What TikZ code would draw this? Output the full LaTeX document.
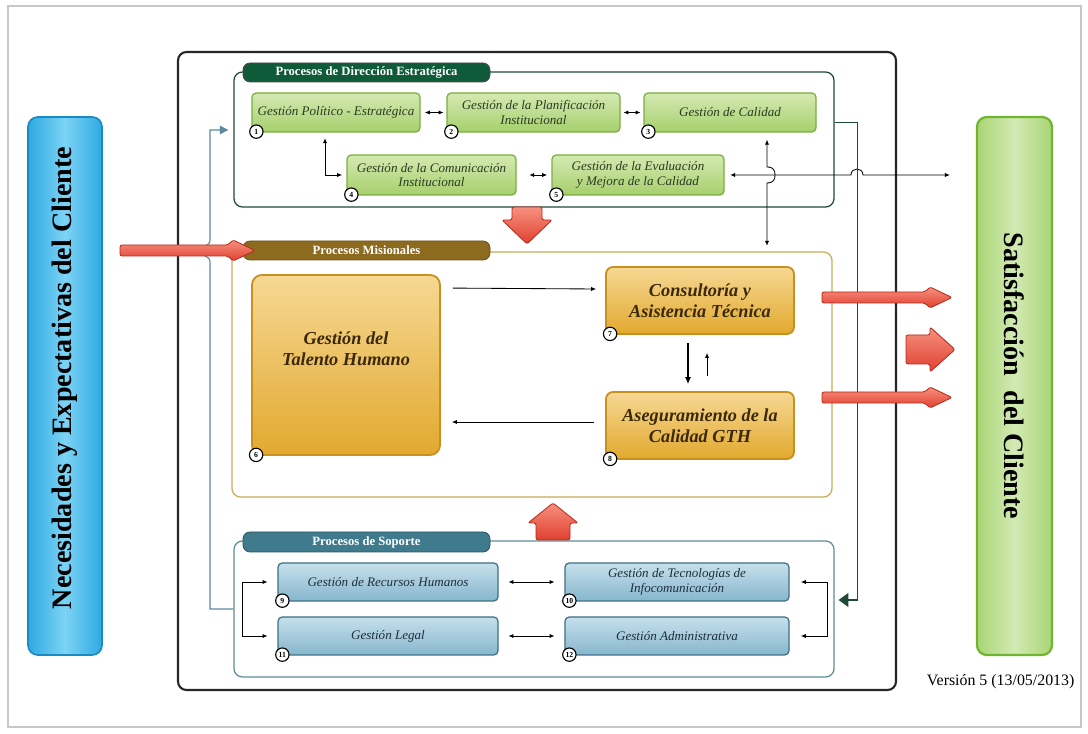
\documentclass[tikz,border=0pt]{standalone}
\usepackage{fontspec}
\setmainfont{Liberation Serif}
\usetikzlibrary{arrows.meta,calc}

\definecolor{gStroke}{HTML}{7AAE3E}
\definecolor{gTop}{HTML}{D4EAB2}
\definecolor{gBot}{HTML}{A6CF6C}
\definecolor{gText}{HTML}{2B3A22}
\definecolor{bStroke}{HTML}{3E6F86}
\definecolor{bTop}{HTML}{C6E0EB}
\definecolor{bBot}{HTML}{86B6CD}
\definecolor{bText}{HTML}{1E2E3C}
\definecolor{oStroke}{HTML}{C8901E}
\definecolor{oTop}{HTML}{F6D894}
\definecolor{oBot}{HTML}{E2A92E}
\definecolor{oText}{HTML}{3A2808}
\definecolor{dirGreen}{HTML}{1F4A38}
\definecolor{tabGreen}{HTML}{0F5A38}
\definecolor{misGold}{HTML}{C9AD5C}
\definecolor{tabGold}{HTML}{8C6A1E}
\definecolor{supTeal}{HTML}{5E8E98}
\definecolor{tabTeal}{HTML}{3F7B8C}
\definecolor{linkBlue}{HTML}{5B8AA0}
\definecolor{redFill}{HTML}{E0402F}
\definecolor{redLight}{HTML}{F7907F}
\definecolor{redEdge}{HTML}{B52A1E}
\definecolor{cyanBar}{HTML}{2EAAE2}
\definecolor{cyanLight}{HTML}{7CD3F5}
\definecolor{cyanEdge}{HTML}{1A8AC2}
\definecolor{limeEdge}{HTML}{70B530}
\definecolor{limeFill}{HTML}{A9D575}
\definecolor{limeLight}{HTML}{D2EAB4}

\tikzset{
  sz/.style 2 args={minimum width=#1*0.025cm, minimum height=#2*0.025cm},
  gbox/.style={draw=gStroke, line width=0.9pt, rounded corners=3pt,
    top color=gTop, bottom color=gBot, text=gText, align=center, inner sep=0pt,
    font=\fontsize{9.3}{10.2}\selectfont\itshape},
  bbox/.style={draw=bStroke, line width=0.9pt, rounded corners=3pt,
    top color=bTop, bottom color=bBot, text=bText, align=center, inner sep=0pt,
    font=\fontsize{9.3}{10.2}\selectfont\itshape},
  obox/.style={draw=oStroke, line width=1.3pt, rounded corners=5pt,
    top color=oTop, bottom color=oBot, text=oText, align=center, inner sep=0pt,
    font=\fontsize{13}{15}\selectfont\bfseries\itshape},
  frm/.style={rounded corners=6pt, line width=0.9pt, inner sep=0pt},
  tab/.style={rounded corners=5pt, text=white, inner sep=0pt, line width=0.6pt,
    font=\fontsize{9}{10}\selectfont\bfseries},
  numc/.style={circle, draw=black, fill=white, line width=0.8pt, inner sep=0pt,
    minimum size=9.5pt, font=\fontsize{5.5}{6}\selectfont\bfseries},
  arr/.style={line width=0.6pt, -{Latex[length=3.5pt,width=3pt]}},
  dbl/.style={line width=0.6pt, {Latex[length=3.5pt,width=3pt]}-{Latex[length=3.5pt,width=3pt]}},
  redarrow/.style={draw=redEdge, line width=0.6pt, top color=redLight,
    bottom color=redFill, rounded corners=1.5pt},
  bartext/.style={font=\fontsize{20}{22}\selectfont\bfseries, text=black},
}

\begin{document}
\begin{tikzpicture}[x=0.025cm, y=-0.025cm]
\useasboundingbox (0,0) rectangle (1088,734);
\fill[white] (0,0) rectangle (1088,734);
\draw[black!22, line width=0.8pt] (8,6) rectangle (1081,727);

% outer process frame
\node[draw=black!85, line width=1.5pt, rounded corners=6pt, sz={718}{638}] (main) at (537,371) {};

% client side bars
\node[draw=cyanEdge, line width=1.2pt, rounded corners=7pt, sz={74}{538},
  left color=cyanBar, right color=cyanBar, middle color=cyanLight] (need) at (65,386) {};
\node[bartext, rotate=90] at ($(need.center)+(0,-8)$) {Necesidades y Expectativas del Cliente};
\node[draw=limeEdge, line width=1.6pt, rounded corners=7pt, sz={75}{538},
  left color=limeFill, right color=limeFill, middle color=limeLight] (sat) at (1014.5,386) {};
\node[bartext, rotate=-90] at ($(sat.center)+(0,-10)$) {Satisfacción\ \ del Cliente};

\node[anchor=west, font=\fontsize{11.3}{13}\selectfont] (ver) at (922,682) {Versión 5 (13/05/2013)};

% ---------- strategic direction processes ----------
\node[frm, draw=dirGreen, sz={600}{135}] (dir) at (534,139.5) {};
\node[tab, draw=black!70, fill=tabGreen, sz={247}{19}] (tabDir) at (366.5,72.5) {Procesos de Dirección Estratégica};

\node[gbox, sz={168}{39}] (b1) at (336,112.5) {Gestión Político - Estratégica};
\node[gbox, sz={173}{39}] (b2) at (533.5,112.5) {Gestión de la Planificación\\Institucional};
\node[gbox, sz={172}{39}] (b3) at (730,112.5) {Gestión de Calidad};
\node[gbox, sz={169}{40}] (b4) at (431.5,175) {Gestión de la Comunicación\\Institucional};
\node[gbox, sz={172}{40}] (b5) at (638,175) {Gestión de la Evaluación\\y Mejora de la Calidad};

% ---------- mission processes ----------
\node[frm, draw=misGold, sz={600}{245}] (mis) at (532,374.5) {};
\node[tab, draw=tabGold!80!black, fill=tabGold, sz={247}{19}] (tabMis) at (366.5,250.5) {Procesos Misionales};

\node[obox, sz={188}{180}, rounded corners=7pt] (tal) at (346,365) {Gestión del\\Talento Humano\\[8pt]~};
\node[obox, sz={188}{67}] (cons) at (700,300.5) {Consultoría y\\Asistencia Técnica};
\node[obox, sz={188}{67}] (ase) at (700,425.5) {Aseguramiento de la\\Calidad GTH};

% ---------- support processes ----------
\node[frm, draw=supTeal, sz={600}{136}] (sup) at (534,609) {};
\node[tab, draw=tabTeal!70!black, fill=tabTeal, sz={247}{20}] (tabSup) at (366.5,542) {Procesos de Soporte};

\node[bbox, sz={220}{38}] (b9) at (388,582) {Gestión de Recursos Humanos};
\node[bbox, sz={224}{38}] (b10) at (677,582) {Gestión de Tecnologías de\\Infocomunicación};
\node[bbox, sz={220}{38}] (b11) at (388,636) {Gestión Legal};
\node[bbox, sz={224}{38}] (b12) at (677,636) {Gestión Administrativa};

% process numbers
\foreach \b/\n in {b1/1,b2/2,b3/3,b4/4,b5/5,tal/6,cons/7,ase/8,b9/9,b10/10,b11/11,b12/12}
  \node[numc] (n\n) at ($(\b.south west)+(5,-1)$) {\n};

% ---------- connectors: direction ----------
\draw[dbl, shorten <=3pt, shorten >=2pt] (b1) -- (b2);
\draw[dbl, shorten <=2pt, shorten >=2pt] (b2) -- (b3);
\draw[dbl, shorten <=9pt, shorten >=3pt] (b4) -- (b5);
\draw[dbl, shorten <=4pt, shorten >=3pt] ($(b1.south)+(-11,0)$) |- (b4.west);
\draw[dbl, shorten <=5pt, shorten >=4pt] ($(b3.south)+(37,0)$) -- (767,167)
  .. controls (774,167) and (775,171) .. (775,175)
  .. controls (775,179) and (774,183) .. (767,183) -- (mis.north -| 767,0);
\draw[dbl, shorten <=4pt] (b5.east) -- (851,175)
  .. controls (851,167) and (863,167) .. (863,175) -- ($(sat.west)+(-26,-211)$);
\draw[dirGreen, line width=0.9pt, -{Triangle[length=7pt,width=10pt]}]
  ($(dir.north east)+(0,51)$) -- ++(23,0) |- ($(sup.east)+(4,-9)$);
\draw[linkBlue, line width=0.8pt, -{Triangle[length=6pt,width=6pt]}]
  (sup.west) -- (210,609) -- (210,262)
  .. controls (210,255) and (201,257) .. (201,251)
  .. controls (201,245) and (210,247) .. (210,240) |- ($(dir.west)+(-5,-9.5)$);

% ---------- connectors: mission ----------
\draw[arr] ($(tal.north east)+(12,14)$) -- ($(cons.west)+(-9,-11.5)$);
\draw[arr] ($(ase.west)+(-11,-3.5)$) -- ($(tal.east)+(11,57)$);
\draw[line width=1.3pt, -{Latex[length=5pt,width=4.5pt]}] ($(cons.south)+(-12,8)$) -- ($(ase.north)+(-12,-7)$);
\draw[arr] ($(ase.north)+(7,-15)$) -- ($(cons.south)+(7,18)$);

% ---------- connectors: support ----------
\draw[dbl, shorten <=7pt, shorten >=7pt] (b9) -- (b10);
\draw[dbl, shorten <=7pt, shorten >=7pt] (b11) -- (b12);
\coordinate (brL) at (242,609);
\coordinate (brR) at (827,609);
\draw[arr, shorten >=7pt] (brL) |- (b9.west);
\draw[arr, shorten >=7pt] (brL) |- (b11.west);
\draw[arr, shorten >=8pt] (brR) |- (b10.east);
\draw[arr, shorten >=8pt] (brR) |- (b12.east);

% ---------- red flow arrows ----------
\path[redarrow] (120,245) -- (228,245) -- (233,240) -- (255,250.5) -- (233,261) -- (228,256) -- (120,256) -- cycle;
\path[redarrow] (822,292) -- (925,292) -- (930,287) -- (952,297.5) -- (930,308) -- (925,303) -- (822,303) -- cycle;
\path[redarrow] (822,392) -- (925,392) -- (930,387) -- (952,397.5) -- (930,408) -- (925,403) -- (822,403) -- cycle;
\path[redarrow] (906,335) -- (930,335) -- (930,327) -- (955,349.5) -- (930,372) -- (930,364) -- (906,364) -- cycle;
\path[redarrow] (512,207) -- (542,207) -- (542,220) -- (552,220) -- (527,244) -- (502,220) -- (512,220) -- cycle;
\path[redarrow] (536,540) -- (570,540) -- (570,523) -- (578,523) -- (553,503) -- (528,523) -- (536,523) -- cycle;
\end{tikzpicture}
\end{document}
